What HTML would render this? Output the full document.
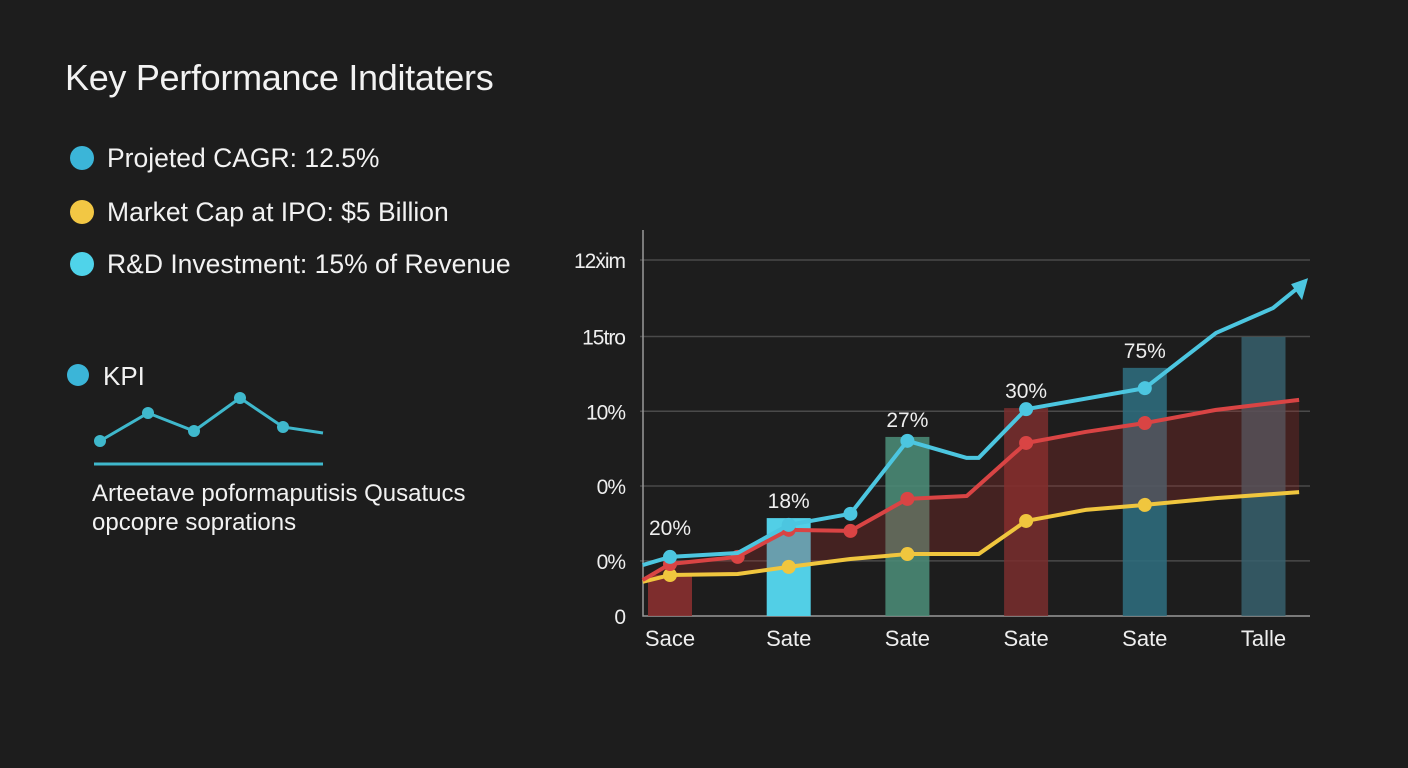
<!DOCTYPE html>
<html><head><meta charset="utf-8"><style>
body{margin:0;width:1408px;height:768px;background:#1d1d1d;overflow:hidden;font-family:"Liberation Sans",sans-serif;color:#f2f2f2}
.t{position:absolute;white-space:nowrap}
</style></head><body>
<div class="t" style="left:65px;top:57px;font-size:36px;letter-spacing:-0.3px">Key Performance Inditaters</div>
<svg width="1408" height="768" style="position:absolute;left:0;top:0">
<circle cx="82" cy="158" r="12" fill="#3bb5d8"/>
<circle cx="82" cy="212" r="12" fill="#f2c744"/>
<circle cx="82" cy="264" r="12" fill="#4fd3ea"/>
<circle cx="78" cy="375" r="11" fill="#3bb5d8"/>
<polyline points="100,441 148,413 194,431 240,398 283,427 323,433" fill="none" stroke="#3fb8cc" stroke-width="3"/>
<g fill="#3fb8cc"><circle cx="100" cy="441" r="6"/><circle cx="148" cy="413" r="6"/><circle cx="194" cy="431" r="6"/><circle cx="240" cy="398" r="6"/><circle cx="283" cy="427" r="6"/></g>
<line x1="94" y1="464" x2="323" y2="464" stroke="#3fb8cc" stroke-width="3"/>
</svg>
<div class="t" style="left:107px;top:143px;font-size:26.5px">Projeted CAGR: 12.5%</div>
<div class="t" style="left:107px;top:197px;font-size:26.5px">Market Cap at IPO: $5 Billion</div>
<div class="t" style="left:107px;top:249px;font-size:26.5px">R&amp;D Investment: 15% of Revenue</div>
<div class="t" style="left:103px;top:361px;font-size:26px">KPI</div>
<div class="t" style="left:92px;top:479px;font-size:24px;line-height:29px">Arteetave poformaputisis Qusatucs<br>opcopre soprations</div>
<svg id="chart" width="1408" height="768" style="position:absolute;left:0;top:0"></svg>
<script>
const categories=["Sace","Sate","Sate","Sate","Sate","Talle"];
const barValues=[11.5,27.5,50.3,58.4,69.7,78.4];
const barLabels=["20%","18%","27%","30%","75%",""];
const tickValues=[0,15.5,36.5,57.5,78.5,100];
const tickLabels=["0","0%","0%","10%","15tro","12ẋim"];
const cyanX=[-0.23,0,0.57,1,1.52,2,2.5,2.6,3,4,4.6,5.08,5.35];
const cyanY=[14.3,16.6,17.7,25.6,28.7,49.2,44.4,44.4,58.1,64,79.5,86.5,93.8];
const redX=[-0.23,0,0.57,1,1.52,2,2.5,3,3.5,4,4.6,5.3];
const redY=[10.1,14.6,16.6,24.2,23.9,32.9,33.7,48.6,51.7,54.2,57.9,60.7];
const yellowX=[-0.23,0,0.57,1,1.52,2,2.6,3,3.5,4,4.6,5.3];
const yellowY=[9.6,11.5,11.8,13.8,16,17.4,17.4,26.7,29.8,31.2,33.1,34.8];
const cyanMarks=[1,3,4,5,8,9];
const redMarks=[1,2,3,4,5,7,9];
const yellowMarks=[1,3,5,7,9];
const NS="http://www.w3.org/2000/svg";
const svg=document.getElementById('chart');
const X=i=>670+i*118.7;
const Y=v=>616-v*3.56;
function mk(tag,attrs,parent){const e=document.createElementNS(NS,tag);for(const k in attrs)e.setAttribute(k,attrs[k]);(parent||svg).appendChild(e);return e;}
tickValues.forEach((v,i)=>{
 if(i>0){const l=mk('line',{x1:640,x2:1310,y1:Y(v),y2:Y(v),stroke:'#4a4a4a','stroke-width':1.5});
 
 }
 const t=mk('text',{x:625,y:Y(v)+8,'text-anchor':'end','font-size':21,fill:'#eee','font-family':'Liberation Sans','letter-spacing':'-1'});
 t.textContent=tickLabels[i];
 
 
});
const ax=mk('polyline',{points:`643,230 643,616 1310,616`,fill:'none',stroke:'#999','stroke-width':1.5});


const barColors=['#8a3030','#52cfe6','#4a8a76','#7a2e2e','#2f6b7c','#37606d'];
const barOps=[0.9,1,0.9,0.85,0.9,0.85];
barValues.forEach((v,i)=>{
 const r=mk('rect',{x:X(i)-22,y:Y(v),width:44,height:616-Y(v),fill:barColors[i],opacity:barOps[i]});
 
 
 const t=mk('text',{x:X(i),y:Y(Math.max(v,cyanY[0]))-10-(i==0?20:0),'text-anchor':'middle','font-size':21,fill:'#eee','font-family':'Liberation Sans'});
 t.textContent=barLabels[i];
 
 
 const c=mk('text',{x:X(i),y:646,'text-anchor':'middle','font-size':22,fill:'#eee','font-family':'Liberation Sans'});
 c.textContent=categories[i];
 
 
});
let pts=redX.map((x,i)=>X(x)+','+Y(redY[i]));
pts=pts.concat(yellowX.map((x,i)=>X(x)+','+Y(yellowY[i])).reverse());
const band=mk('polygon',{points:pts.join(' '),fill:'#a0302c',opacity:0.3});


function series(xs,ys,color,marks,name){
 const p=mk('polyline',{points:xs.map((x,i)=>X(x)+','+Y(ys[i])).join(' '),fill:'none',stroke:color,'stroke-width':4,'stroke-linejoin':'round'});
 
 
 marks.forEach(i=>{const c=mk('circle',{cx:X(xs[i]),cy:Y(ys[i]),r:7,fill:color});
 
 });
}
series(yellowX,yellowY,'#f0c63e',yellowMarks,'yellow');
series(redX,redY,'#d94444',redMarks,'red');
series(cyanX,cyanY,'#4cc6e0',cyanMarks,'cyan');
const n=cyanX.length-1;
const ex=X(cyanX[n]),ey=Y(cyanY[n]);
const ar=mk('polygon',{points:`${ex+3},${ey-4} ${ex-14},${ey+2} ${ex-3},${ey+18}`,fill:'#4cc6e0'});


</script>
</body></html>
